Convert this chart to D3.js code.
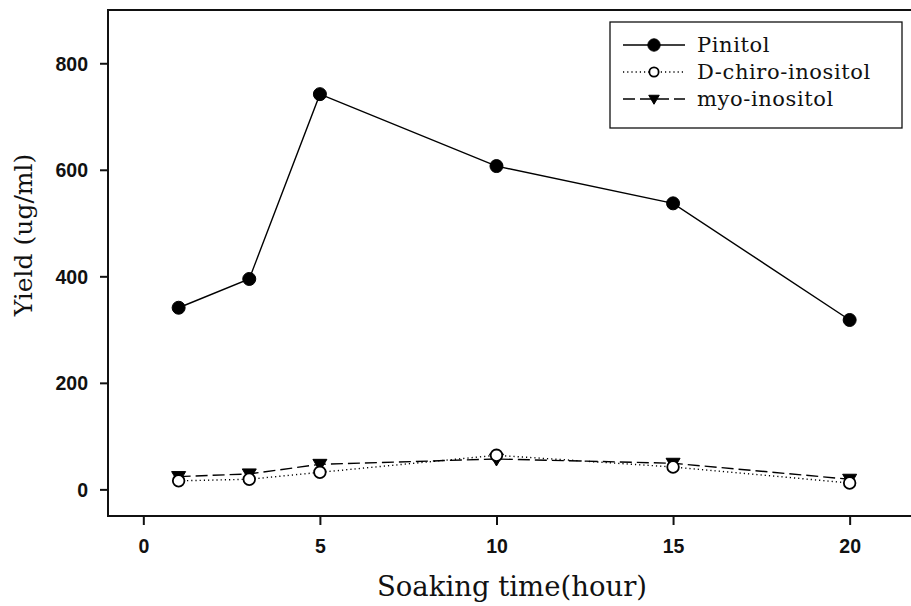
<!DOCTYPE html>
<html>
<head>
<meta charset="utf-8">
<script src="https://cdn.jsdelivr.net/npm/d3@7"></script>
<style>
  html, body { margin: 0; padding: 0; background: #fff; }
  svg { display: block; }
</style>
</head>
<body>
<svg id="chart" width="911" height="606"></svg>
<script>
// Soaking time (hours) and yields (ug/ml)
const hours = [1, 3, 5, 10, 15, 20];
const pinitol = [341, 395, 742, 607, 537, 318];
const dChiroInositol = [16, 19, 32, 64, 42, 12];
const myoInositol = [24, 29, 47, 57, 49, 19];
const xTicks = [0, 5, 10, 15, 20];
const yTicks = [0, 200, 400, 600, 800];

const seriesList = [
  { name: "Pinitol", values: pinitol, dash: null, marker: "filled" },
  { name: "D-chiro-inositol", values: dChiroInositol, dash: "1.2,3", marker: "open" },
  { name: "myo-inositol", values: myoInositol, dash: "12,5", marker: "triangle" }
];

const svg = d3.select("#chart");
const plotLeft = 108, plotRight = 945, plotTop = 10, plotBottom = 516;
const serif = "'DejaVu Serif', 'Liberation Serif', serif";

const x = d3.scaleLinear().domain([-1, 22.7]).range([plotLeft, plotRight]);
const y = d3.scaleLinear().domain([-50, 900]).range([plotBottom, plotTop]);

// Frame
svg.append("rect")
  .attr("x", plotLeft).attr("y", plotTop)
  .attr("width", plotRight - plotLeft).attr("height", plotBottom - plotTop)
  .attr("fill", "none").attr("stroke", "#111").attr("stroke-width", 2);

// Axes
const xAxis = svg.append("g").attr("transform", `translate(0,${plotBottom})`)
  .call(d3.axisBottom(x).tickValues(xTicks).tickSize(9).tickSizeOuter(0).tickPadding(14));
const yAxis = svg.append("g").attr("transform", `translate(${plotLeft},0)`)
  .call(d3.axisLeft(y).tickValues(yTicks).tickSize(8).tickSizeOuter(0).tickPadding(12));

[xAxis, yAxis].forEach(g => {
  g.select(".domain").remove();
  g.selectAll(".tick line").attr("stroke", "#111").attr("stroke-width", 2);
  g.selectAll(".tick text")
    .attr("fill", "#111")
    .style("font-family", "'Liberation Sans', Arial, sans-serif")
    .style("font-weight", "bold")
    .style("font-size", "19.5px");
});
yAxis.selectAll(".tick text").attr("dy", "0.35em");

// Axis titles
svg.append("text")
  .attr("x", 512).attr("y", 596)
  .attr("text-anchor", "middle")
  .style("font-family", serif)
  .style("font-size", "27.5px")
  .attr("fill", "#111")
  .text("Soaking time(hour)");

svg.append("text")
  .attr("transform", `translate(32,235) rotate(-90)`)
  .attr("text-anchor", "middle")
  .style("font-family", serif)
  .style("font-size", "25px")
  .attr("fill", "#111")
  .text("Yield (ug/ml)");

// Markers
function drawMarker(g, kind, cx, cy, scale = 1) {
  if (kind === "filled") {
    g.append("circle").attr("cx", cx).attr("cy", cy).attr("r", 6.5 * scale)
      .attr("fill", "#000").attr("stroke", "#000").attr("stroke-width", 1);
  } else if (kind === "open") {
    g.append("circle").attr("cx", cx).attr("cy", cy).attr("r", 5.8 * scale)
      .attr("fill", "#fff").attr("stroke", "#000").attr("stroke-width", 1.8);
  } else {
    const w = 7 * scale, t = 5 * scale, b = 7 * scale;
    g.append("path")
      .attr("d", `M${cx - w},${cy - t}L${cx + w},${cy - t}L${cx},${cy + b}Z`)
      .attr("fill", "#000").attr("stroke", "#000").attr("stroke-width", 1);
  }
}

const line = d3.line().x(d => x(d[0])).y(d => y(d[1]));

// Lines first (myo drawn before D-chiro so open circles sit on top)
const order = [seriesList[2], seriesList[1], seriesList[0]];
order.forEach(s => {
  svg.append("path")
    .datum(hours.map((h, i) => [h, s.values[i]]))
    .attr("d", line)
    .attr("fill", "none")
    .attr("stroke", "#000")
    .attr("stroke-width", 1.4)
    .attr("stroke-dasharray", s.dash);
});
order.forEach(s => {
  const g = svg.append("g");
  hours.forEach((h, i) => drawMarker(g, s.marker, x(h), y(s.values[i])));
});

// Legend
const lg = svg.append("g");
lg.append("rect").attr("x", 610).attr("y", 22).attr("width", 292).attr("height", 106)
  .attr("fill", "#fff").attr("stroke", "#111").attr("stroke-width", 1.3);
const rowY = [45, 72, 99];
const legendScale = [0.95, 0.8, 0.75];
seriesList.forEach((s, i) => {
  const ry = rowY[i];
  lg.append("line").attr("x1", 623).attr("x2", 685).attr("y1", ry).attr("y2", ry)
    .attr("stroke", "#000").attr("stroke-width", 1.4).attr("stroke-dasharray", s.dash);
  drawMarker(lg, s.marker, 654, ry, legendScale[i]);
  lg.append("text").attr("x", 697).attr("y", ry).attr("dy", "0.35em")
    .style("font-family", serif)
    .style("font-size", "21px")
    .style("letter-spacing", "0.6px")
    .attr("fill", "#111")
    .text(s.name);
});
</script>
</body>
</html>
